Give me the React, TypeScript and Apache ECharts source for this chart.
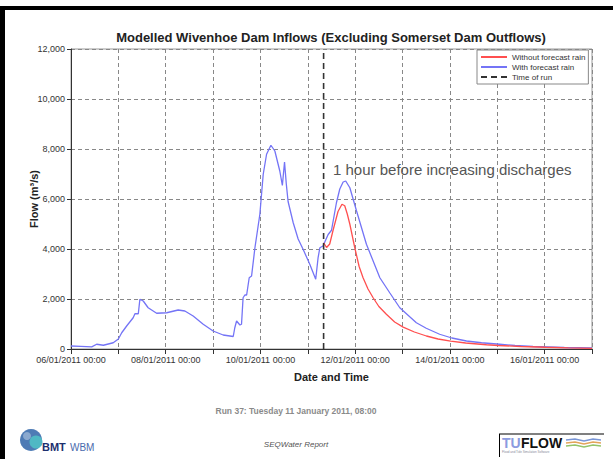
import React, { useEffect, useRef } from 'react';
import * as echarts from 'echarts';

// x tick labels (every 48 h from 06/01/2011 00:00)
const xTickLabels = [
  '06/01/2011 00:00',
  '08/01/2011 00:00',
  '10/01/2011 00:00',
  '12/01/2011 00:00',
  '14/01/2011 00:00',
  '16/01/2011 00:00',
];

// hours since 06/01/2011 00:00
const withRainHours = [
  0, 5, 10.5, 13, 16.4, 21.4, 24, 25.7, 28.2, 31.5, 32.4, 34.1, 34.9, 36.6, 39.1, 43.4, 48.5, 54.3,
  57.7, 61.9, 67, 72, 77.1, 82.2, 83, 83.9, 85.6, 86.4, 87.2, 88.1, 89, 90.3, 91.5, 93.2, 95.7, 97.4,
  99.1, 101.3, 103.3, 105.8, 107.1, 108.2, 109.1, 110, 112.6, 115.1, 117.6, 121, 124, 125.2, 126.1,
  127.7, 128.6, 130.3, 132, 134.5, 136.2, 137.9, 139.2, 141.3, 144.7, 149.7, 156.5, 161.5, 166.6,
  175, 180, 186.8, 193, 200.4, 208, 217.2, 225, 234.1, 250, 264,
];
const withRainFlow = [
  120, 105, 85, 190, 150, 250, 400, 650, 920, 1250, 1410, 1410, 1990, 1920, 1650, 1430, 1450, 1560,
  1520, 1320, 990, 720, 560, 500, 850, 1120, 960, 990, 2050, 2160, 2160, 2850, 2920, 4050, 5390, 6990,
  7790, 8150, 7920, 7120, 6540, 7480, 6600, 5900, 5050, 4400, 3990, 3390, 2790, 3650, 4050,
  4120, 4280, 4580, 4750, 5850, 6400, 6680, 6720, 6450, 5520, 4190, 2850, 2250, 1650,
  1050, 830, 590, 440, 320, 250, 190, 140, 100, 60, 40,
];

const withoutRainHours = [
  128, 129.5, 131.1, 132.8, 135.3, 137.3, 138.7, 140, 141.3, 143.8, 146, 148, 150.5, 153.1, 156,
  159.8, 164, 168.3, 174, 180.1, 186, 192.4, 200, 210.5, 216.4, 228, 240.4, 252, 264,
];
const withoutRainFlow = [
  4250, 4060, 4200, 4750, 5500, 5790, 5730, 5400, 4990, 4050, 3300, 2850, 2400, 2050, 1700,
  1390, 1080, 875, 680, 520, 400, 315, 240, 170, 140, 100, 70, 45, 25,
];

const timeOfRunHour = 128; // 11/01/2011 08:00
const timeOfRunFlow = [0, 12000];

const FONT = '"Liberation Sans", Arial, Helvetica, sans-serif';

const zip = (xs: number[], ys: number[]) => xs.map((x, i) => [x, ys[i]]);

export default function App() {
  const ref = useRef<HTMLDivElement>(null);

  useEffect(() => {
    document.body.style.margin = '0';
    const chart = echarts.init(ref.current as HTMLDivElement, null, { renderer: 'svg' });

    const option: any = {
      animation: false,
      backgroundColor: '#ffffff',
      textStyle: { fontFamily: FONT },
      grid: {
        left: 71,
        right: 21,
        top: 49,
        bottom: 110,
        show: true,
        borderColor: '#999999',
        borderWidth: 1,
        backgroundColor: 'transparent',
      },
      legend: {
        orient: 'vertical',
        left: 477,
        top: 50,
        data: ['Without forecast rain', 'With forecast rain', 'Time of run'],
        itemWidth: 26,
        itemHeight: 10,
        itemGap: 2,
        padding: [3, 3, 3, 3],
        borderColor: '#888888',
        borderWidth: 1,
        backgroundColor: '#ffffff',
        itemStyle: { opacity: 0 },
        textStyle: { fontSize: 8, color: '#333333', fontFamily: FONT },
      },
      xAxis: {
        type: 'value',
        min: 0,
        max: 264,
        interval: 24,
        name: 'Date and Time',
        nameLocation: 'middle',
        nameGap: 22,
        nameTextStyle: { fontSize: 11, fontWeight: 'bold', color: '#222222', fontFamily: FONT },
        axisLine: { show: true, lineStyle: { color: '#333333', width: 1 } },
        axisTick: { show: true, length: 5, lineStyle: { color: '#333333' } },
        axisLabel: {
          fontSize: 9,
          color: '#333333',
          margin: 6,
          fontFamily: FONT,
          formatter: (v: number) => (v % 48 === 0 ? xTickLabels[v / 48] || '' : ''),
        },
        splitLine: { show: true, lineStyle: { color: '#888888', width: 1, type: [4, 3] } },
      },
      yAxis: {
        type: 'value',
        min: 0,
        max: 12000,
        interval: 2000,
        name: 'Flow (m³/s)',
        nameLocation: 'middle',
        nameGap: 32,
        nameMoveOverlap: false,
        nameTextStyle: { fontSize: 11, fontWeight: 'bold', color: '#222222', fontFamily: FONT },
        axisLine: { show: true, lineStyle: { color: '#333333', width: 1 } },
        axisTick: { show: true, length: 4, lineStyle: { color: '#333333' } },
        axisLabel: {
          fontSize: 9,
          color: '#333333',
          margin: 6,
          fontFamily: FONT,
          formatter: (v: number) => v.toLocaleString('en-US'),
        },
        splitLine: { show: true, lineStyle: { color: '#888888', width: 1, type: [4, 3] } },
      },
      series: [
        {
          name: 'With forecast rain',
          type: 'line',
          data: zip(withRainHours, withRainFlow),
          symbol: 'none',
          color: '#7474f6',
          lineStyle: { color: '#7474f6', width: 1.3 },
          z: 3,
        },
        {
          name: 'Without forecast rain',
          type: 'line',
          data: zip(withoutRainHours, withoutRainFlow),
          symbol: 'none',
          color: '#ff4f4f',
          lineStyle: { color: '#ff4f4f', width: 1.3 },
          z: 4,
        },
        {
          name: 'Time of run',
          type: 'line',
          data: timeOfRunFlow.map((f) => [timeOfRunHour, f]),
          symbol: 'none',
          color: '#333333',
          lineStyle: { color: '#333333', width: 1.6, type: [6, 4] },
          z: 5,
        },
      ],
      graphic: [
        // slide frame
        { type: 'rect', shape: { x: 0, y: 6, width: 613, height: 4 }, style: { fill: '#000000' } },
        { type: 'rect', shape: { x: 0, y: 6, width: 5, height: 453 }, style: { fill: '#000000' } },
        // title
        {
          type: 'text',
          x: 331,
          y: 37,
          style: {
            text: 'Modelled Wivenhoe Dam Inflows (Excluding Somerset Dam Outflows)',
            font: `bold 13px ${FONT}`,
            fill: '#222222',
            textAlign: 'center',
            textVerticalAlign: 'middle',
            align: 'center',
            verticalAlign: 'middle',
          },
        },
        // annotation
        {
          type: 'text',
          x: 333,
          y: 169,
          z: 10,
          style: {
            text: '1 hour before increasing discharges',
            font: `15px ${FONT}`,
            fill: '#555555',
            textAlign: 'left',
            textVerticalAlign: 'middle',
            align: 'left',
            verticalAlign: 'middle',
          },
        },
        // footer
        {
          type: 'text',
          x: 296,
          y: 411,
          style: {
            text: 'Run 37: Tuesday 11 January 2011, 08:00',
            font: `bold 8.5px ${FONT}`,
            fill: '#8a8a8a',
            textAlign: 'center',
            textVerticalAlign: 'middle',
            align: 'center',
            verticalAlign: 'middle',
          },
        },
        {
          type: 'text',
          x: 296,
          y: 444,
          style: {
            text: 'SEQWater Report',
            font: `italic 8px ${FONT}`,
            fill: '#555555',
            textAlign: 'center',
            textVerticalAlign: 'middle',
            align: 'center',
            verticalAlign: 'middle',
          },
        },
        // BMT WBM logo
        { type: 'circle', shape: { cx: 31, cy: 440, r: 11 }, style: { fill: '#2f64a8', opacity: 0.85 } },
        { type: 'circle', shape: { cx: 36, cy: 442, r: 6.5 }, style: { fill: '#4fb8c4' } },
        { type: 'circle', shape: { cx: 27, cy: 436, r: 4 }, style: { fill: '#ffffff', opacity: 0.35 } },
        {
          type: 'text',
          x: 42,
          y: 447,
          style: {
            text: 'BMT',
            font: `bold 11px ${FONT}`,
            fill: '#1c2f6e',
            textAlign: 'left',
            textVerticalAlign: 'middle',
            align: 'left',
            verticalAlign: 'middle',
          },
        },
        {
          type: 'text',
          x: 70,
          y: 447,
          style: {
            text: 'WBM',
            font: `10px ${FONT}`,
            fill: '#4a6aad',
            textAlign: 'left',
            textVerticalAlign: 'middle',
            align: 'left',
            verticalAlign: 'middle',
          },
        },
        // TUFLOW logo
        { type: 'line', shape: { x1: 499, y1: 434, x2: 604, y2: 434 }, style: { stroke: '#000000', lineWidth: 1 } },
        { type: 'line', shape: { x1: 499.5, y1: 434, x2: 499.5, y2: 457 }, style: { stroke: '#000000', lineWidth: 1 } },
        {
          type: 'text',
          x: 502,
          y: 443,
          style: {
            text: 'TU',
            font: `bold 14px ${FONT}`,
            fill: '#8c9be0',
            textAlign: 'left',
            textVerticalAlign: 'middle',
            align: 'left',
            verticalAlign: 'middle',
          },
        },
        {
          type: 'text',
          x: 521,
          y: 443,
          style: {
            text: 'FLOW',
            font: `bold 14px ${FONT}`,
            fill: '#111111',
            textAlign: 'left',
            textVerticalAlign: 'middle',
            align: 'left',
            verticalAlign: 'middle',
          },
        },
        {
          type: 'polyline',
          shape: { points: [[566, 440], [575, 439], [584, 441], [593, 439], [601, 440]] },
          style: { stroke: '#7a96d6', lineWidth: 1.5, fill: 'none' },
        },
        {
          type: 'polyline',
          shape: { points: [[566, 443], [575, 442], [584, 444], [593, 442], [601, 443]] },
          style: { stroke: '#e3a55a', lineWidth: 1.5, fill: 'none' },
        },
        {
          type: 'polyline',
          shape: { points: [[566, 446], [575, 445], [584, 447], [593, 445], [601, 446]] },
          style: { stroke: '#93c46a', lineWidth: 1.5, fill: 'none' },
        },
        {
          type: 'text',
          x: 502,
          y: 452,
          style: {
            text: 'Flood and Tide Simulation Software',
            font: `3px ${FONT}`,
            fill: '#8a8a9a',
            textAlign: 'left',
            textVerticalAlign: 'middle',
            align: 'left',
            verticalAlign: 'middle',
          },
        },
      ],
    };

    chart.setOption(option);
    return () => chart.dispose();
  }, []);

  return (
    <div
      ref={ref}
      style={{ position: 'absolute', left: 0, top: 0, width: 613, height: 459, background: '#ffffff' }}
    />
  );
}
